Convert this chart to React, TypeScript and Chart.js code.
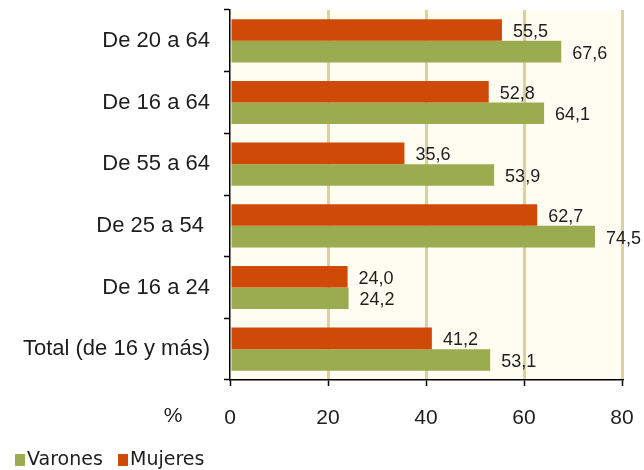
import React, { useEffect, useRef } from "react";
import { Chart, registerables } from "chart.js";

Chart.register(...registerables);

const categories = [
  "De 20 a 64",
  "De 16 a 64",
  "De 55 a 64",
  "De 25 a 54 ",
  "De 16 a 24",
  "Total (de 16 y más)",
];
const mujeres = [55.5, 52.8, 35.6, 62.7, 24.0, 41.2];
const varones = [67.6, 64.1, 53.9, 74.5, 24.2, 53.1];
const xTicks = [0, 20, 40, 60, 80];

const ORANGE = "#cf4a06";
const GREEN = "#9bab4f";
const GRID = "#d9d0a6";
const TEXT = "#1e1e1e";

const fmt = (v: number) => v.toFixed(1).replace(".", ",");

const decorations = {
  id: "decorations",
  beforeDraw(chart: any) {
    const { ctx, chartArea } = chart;
    ctx.save();
    ctx.fillStyle = "#ffffff";
    ctx.fillRect(0, 0, chart.width, chart.height);
    ctx.fillStyle = "#fffdf1";
    ctx.fillRect(chartArea.left, chartArea.top, chartArea.right - chartArea.left, chartArea.bottom - chartArea.top);
    ctx.restore();
  },
  afterDatasetsDraw(chart: any) {
    const { ctx } = chart;
    ctx.save();
    ctx.font = "18px 'Liberation Sans', Arial, sans-serif";
    ctx.fillStyle = TEXT;
    ctx.textAlign = "left";
    ctx.textBaseline = "middle";
    chart.data.datasets.forEach((ds: any, di: number) => {
      const meta = chart.getDatasetMeta(di);
      meta.data.forEach((bar: any, i: number) => {
        ctx.fillText(fmt(ds.data[i]), bar.x + 11, bar.y + 2);
      });
    });

    // axis unit
    ctx.font = "21px 'Liberation Sans', Arial, sans-serif";
    ctx.textAlign = "center";
    ctx.fillText("%", 173, chart.chartArea.bottom + 36);

    // legend (Varones first)
    ctx.font = "19px 'DejaVu Sans', Verdana, sans-serif";
    ctx.textAlign = "left";
    const ly = 460;
    const items = [
      { label: "Varones", color: GREEN, x: 15 },
      { label: "Mujeres", color: ORANGE, x: 118 },
    ];
    items.forEach((it) => {
      ctx.fillStyle = it.color;
      ctx.fillRect(it.x, ly - 6, 10, 12);
      ctx.fillStyle = TEXT;
      ctx.fillText(it.label, it.x + 12, ly);
    });
    ctx.restore();
  },
};

export default function App() {
  const ref = useRef<HTMLCanvasElement>(null);

  useEffect(() => {
    if (!ref.current) return;
    const chart = new Chart(ref.current, {
      type: "bar",
      data: {
        labels: categories,
        datasets: [
          { label: "Mujeres", data: mujeres, backgroundColor: ORANGE, categoryPercentage: 0.7, barPercentage: 1 },
          { label: "Varones", data: varones, backgroundColor: GREEN, categoryPercentage: 0.7, barPercentage: 1 },
        ],
      },
      options: {
        indexAxis: "y",
        responsive: false,
        animation: false,
        layout: { padding: { top: 10, right: 22, left: 0, bottom: 0 } },
        plugins: { legend: { display: false }, tooltip: { enabled: false } },
        scales: {
          x: {
            min: xTicks[0],
            max: xTicks[xTicks.length - 1],
            afterBuildTicks: (scale: any) => {
              scale.ticks = xTicks.map((v) => ({ value: v }));
            },
            afterFit: (scale: any) => {
              scale.height = 90;
              scale.paddingLeft = 0;
              scale.paddingRight = 0;
            },
            grid: {
              color: (c: any) => (c.tick && c.tick.value === 0 ? "rgba(0,0,0,0)" : GRID),
              lineWidth: 3,
              tickColor: "#000",
              tickLength: 6,
              tickWidth: 1.5,
            },
            border: { color: "#000", width: 1.5 },
            ticks: {
              font: { family: "'Liberation Sans', Arial, sans-serif", size: 21 },
              color: TEXT,
              padding: 20,
            },
          },
          y: {
            afterFit: (scale: any) => {
              scale.width = 230;
              scale.paddingTop = 0;
              scale.paddingBottom = 0;
            },
            grid: {
              drawOnChartArea: false,
              tickColor: "#000",
              tickLength: 6,
              tickWidth: 1.5,
            },
            border: { color: "#000", width: 1.5 },
            ticks: {
              font: { family: "'Liberation Sans', Arial, sans-serif", size: 22 },
              color: TEXT,
              padding: 14,
            },
          },
        },
      },
      plugins: [decorations],
    });
    return () => chart.destroy();
  }, []);

  return (
    <div style={{ position: "absolute", left: 0, top: 0, width: 644, height: 470, background: "#fff" }}>
      <canvas ref={ref} width={644} height={470} />
    </div>
  );
}
